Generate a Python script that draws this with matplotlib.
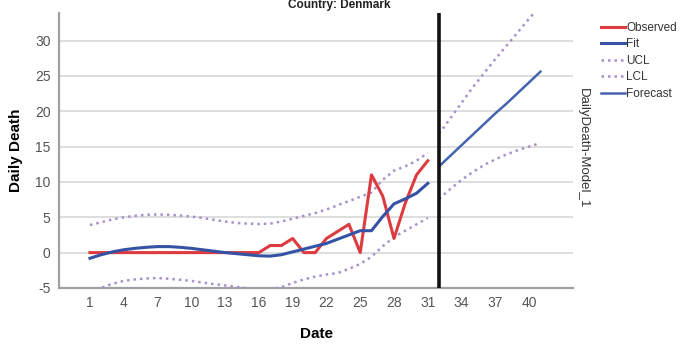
import numpy as np
import matplotlib
matplotlib.use('Agg')
import matplotlib.pyplot as plt

plt.rcParams['font.family'] = ['Liberation Sans', 'DejaVu Sans']
plt.rcParams['axes.unicode_minus'] = False

# ---------------------------------------------------------------------------
# Data
# ---------------------------------------------------------------------------
days = list(range(1, 32))
observed = [0, 0, 0, 0, 0, 0, 0, 0, 0, 0,
            0, 0, 0, 0, 0, 0, 1, 1, 2, 0,
            0, 2, 3, 4, 0, 11, 8, 2, 7, 11,
            13]
fit = [-0.8, -0.3, 0.1, 0.4, 0.6, 0.75, 0.85, 0.85, 0.75, 0.6,
       0.4, 0.2, 0.0, -0.15, -0.3, -0.45, -0.5, -0.3, 0.1, 0.5,
       0.9, 1.3, 1.9, 2.5, 3.1, 3.1, 5.1, 6.9, 7.6, 8.4,
       9.8]
ucl = [3.9, 4.3, 4.7, 5.0, 5.2, 5.35, 5.4, 5.35, 5.25, 5.1,
       4.9, 4.65, 4.4, 4.2, 4.1, 4.05, 4.1, 4.4, 4.8, 5.2,
       5.6, 6.1, 6.7, 7.3, 7.9, 8.5, 10.3, 11.6, 12.2, 13.0,
       14.1]
lcl = [-5.6, -5.0, -4.4, -4.0, -3.8, -3.65, -3.6, -3.7, -3.85, -4.0,
       -4.25, -4.45, -4.65, -4.85, -5.05, -5.2, -5.2, -4.9, -4.3, -3.8,
       -3.4, -3.1, -2.9, -2.3, -1.6, -0.6, 0.9, 2.2, 3.1, 4.0,
       4.9]

fc_days = list(range(32, 42))
forecast = [12.2, 13.7, 15.2, 16.7, 18.2, 19.7, 21.1, 22.6, 24.1, 25.6]
fc_ucl = [16.8, 19.0, 21.2, 23.4, 25.4, 27.4, 29.3, 31.2, 33.1, 35.0]
fc_lcl = [7.6, 9.0, 10.3, 11.4, 12.4, 13.2, 13.9, 14.5, 15.0, 15.5]

forecast_start = 32
xticks = list(range(1, 41, 3))
yticks = list(range(-5, 31, 5))

# ---------------------------------------------------------------------------
# Styling
# ---------------------------------------------------------------------------
RED = '#dd3b3f'
BLUE = '#3552a5'
BLUE_FC = '#4663b0'
CL = '#a792c9'
GRID = '#d8d8d8'
TXT = '#555555'
DOTS = (0, (1, 1.6))

fig = plt.figure(figsize=(6.9, 3.44), dpi=100)
ax = fig.add_axes([0.0855, 0.163, 0.745, 0.799])

ax.plot(days, observed, color=RED, lw=2.2, label='Observed', zorder=4)
ax.plot(days, fit, color=BLUE, lw=2.2, label='Fit', zorder=5)
ax.plot(days, ucl, color=CL, lw=1.8, ls=DOTS, label='UCL', zorder=3)
ax.plot(days, lcl, color=CL, lw=1.8, ls=DOTS, label='LCL', zorder=3)
ax.plot(fc_days, forecast, color=BLUE_FC, lw=1.8, label='Forecast', zorder=5)
ax.plot(fc_days, fc_ucl, color=CL, lw=1.8, ls=DOTS, zorder=3)
ax.plot(fc_days, fc_lcl, color=CL, lw=1.8, ls=DOTS, zorder=3)

ax.axvline(forecast_start, color='#111111', lw=2.6, zorder=6)

ax.set_xlim(-1.75, 43.9)
ax.set_ylim(-5, 33.9)
ax.set_xticks(xticks)
ax.set_yticks(yticks)
ax.yaxis.grid(True, color=GRID, lw=1.2)
ax.set_axisbelow(True)
ax.tick_params(axis='both', length=0, labelsize=10, colors=TXT)
ax.tick_params(axis='x', pad=6)
ax.tick_params(axis='y', pad=6)
for s in ('top', 'right'):
    ax.spines[s].set_visible(False)
for s in ('left', 'bottom'):
    ax.spines[s].set_color('#a0a0a0')
    ax.spines[s].set_linewidth(1.6)

ax.set_xlabel('Date', fontsize=11, fontweight='bold', labelpad=12)
ax.set_ylabel('Daily Death', fontsize=11, fontweight='bold', labelpad=9)

fig.text(0.845, 0.57, 'DailyDeath-Model_1', rotation=270, fontsize=9.5,
         color='#333333', ha='center', va='center')
fig.text(0.491, 1 - 8 / 344, 'Country: Denmark', fontsize=8.5,
         fontweight='bold', color='#222222', ha='center', va='baseline')

ax.legend(loc='upper left', bbox_to_anchor=(1.045, 0.985), frameon=False,
          fontsize=8.5, handlelength=2.0, handletextpad=0.15,
          labelspacing=0.38, borderaxespad=0, labelcolor='#333333')

fig.savefig('out.png', dpi=100)
